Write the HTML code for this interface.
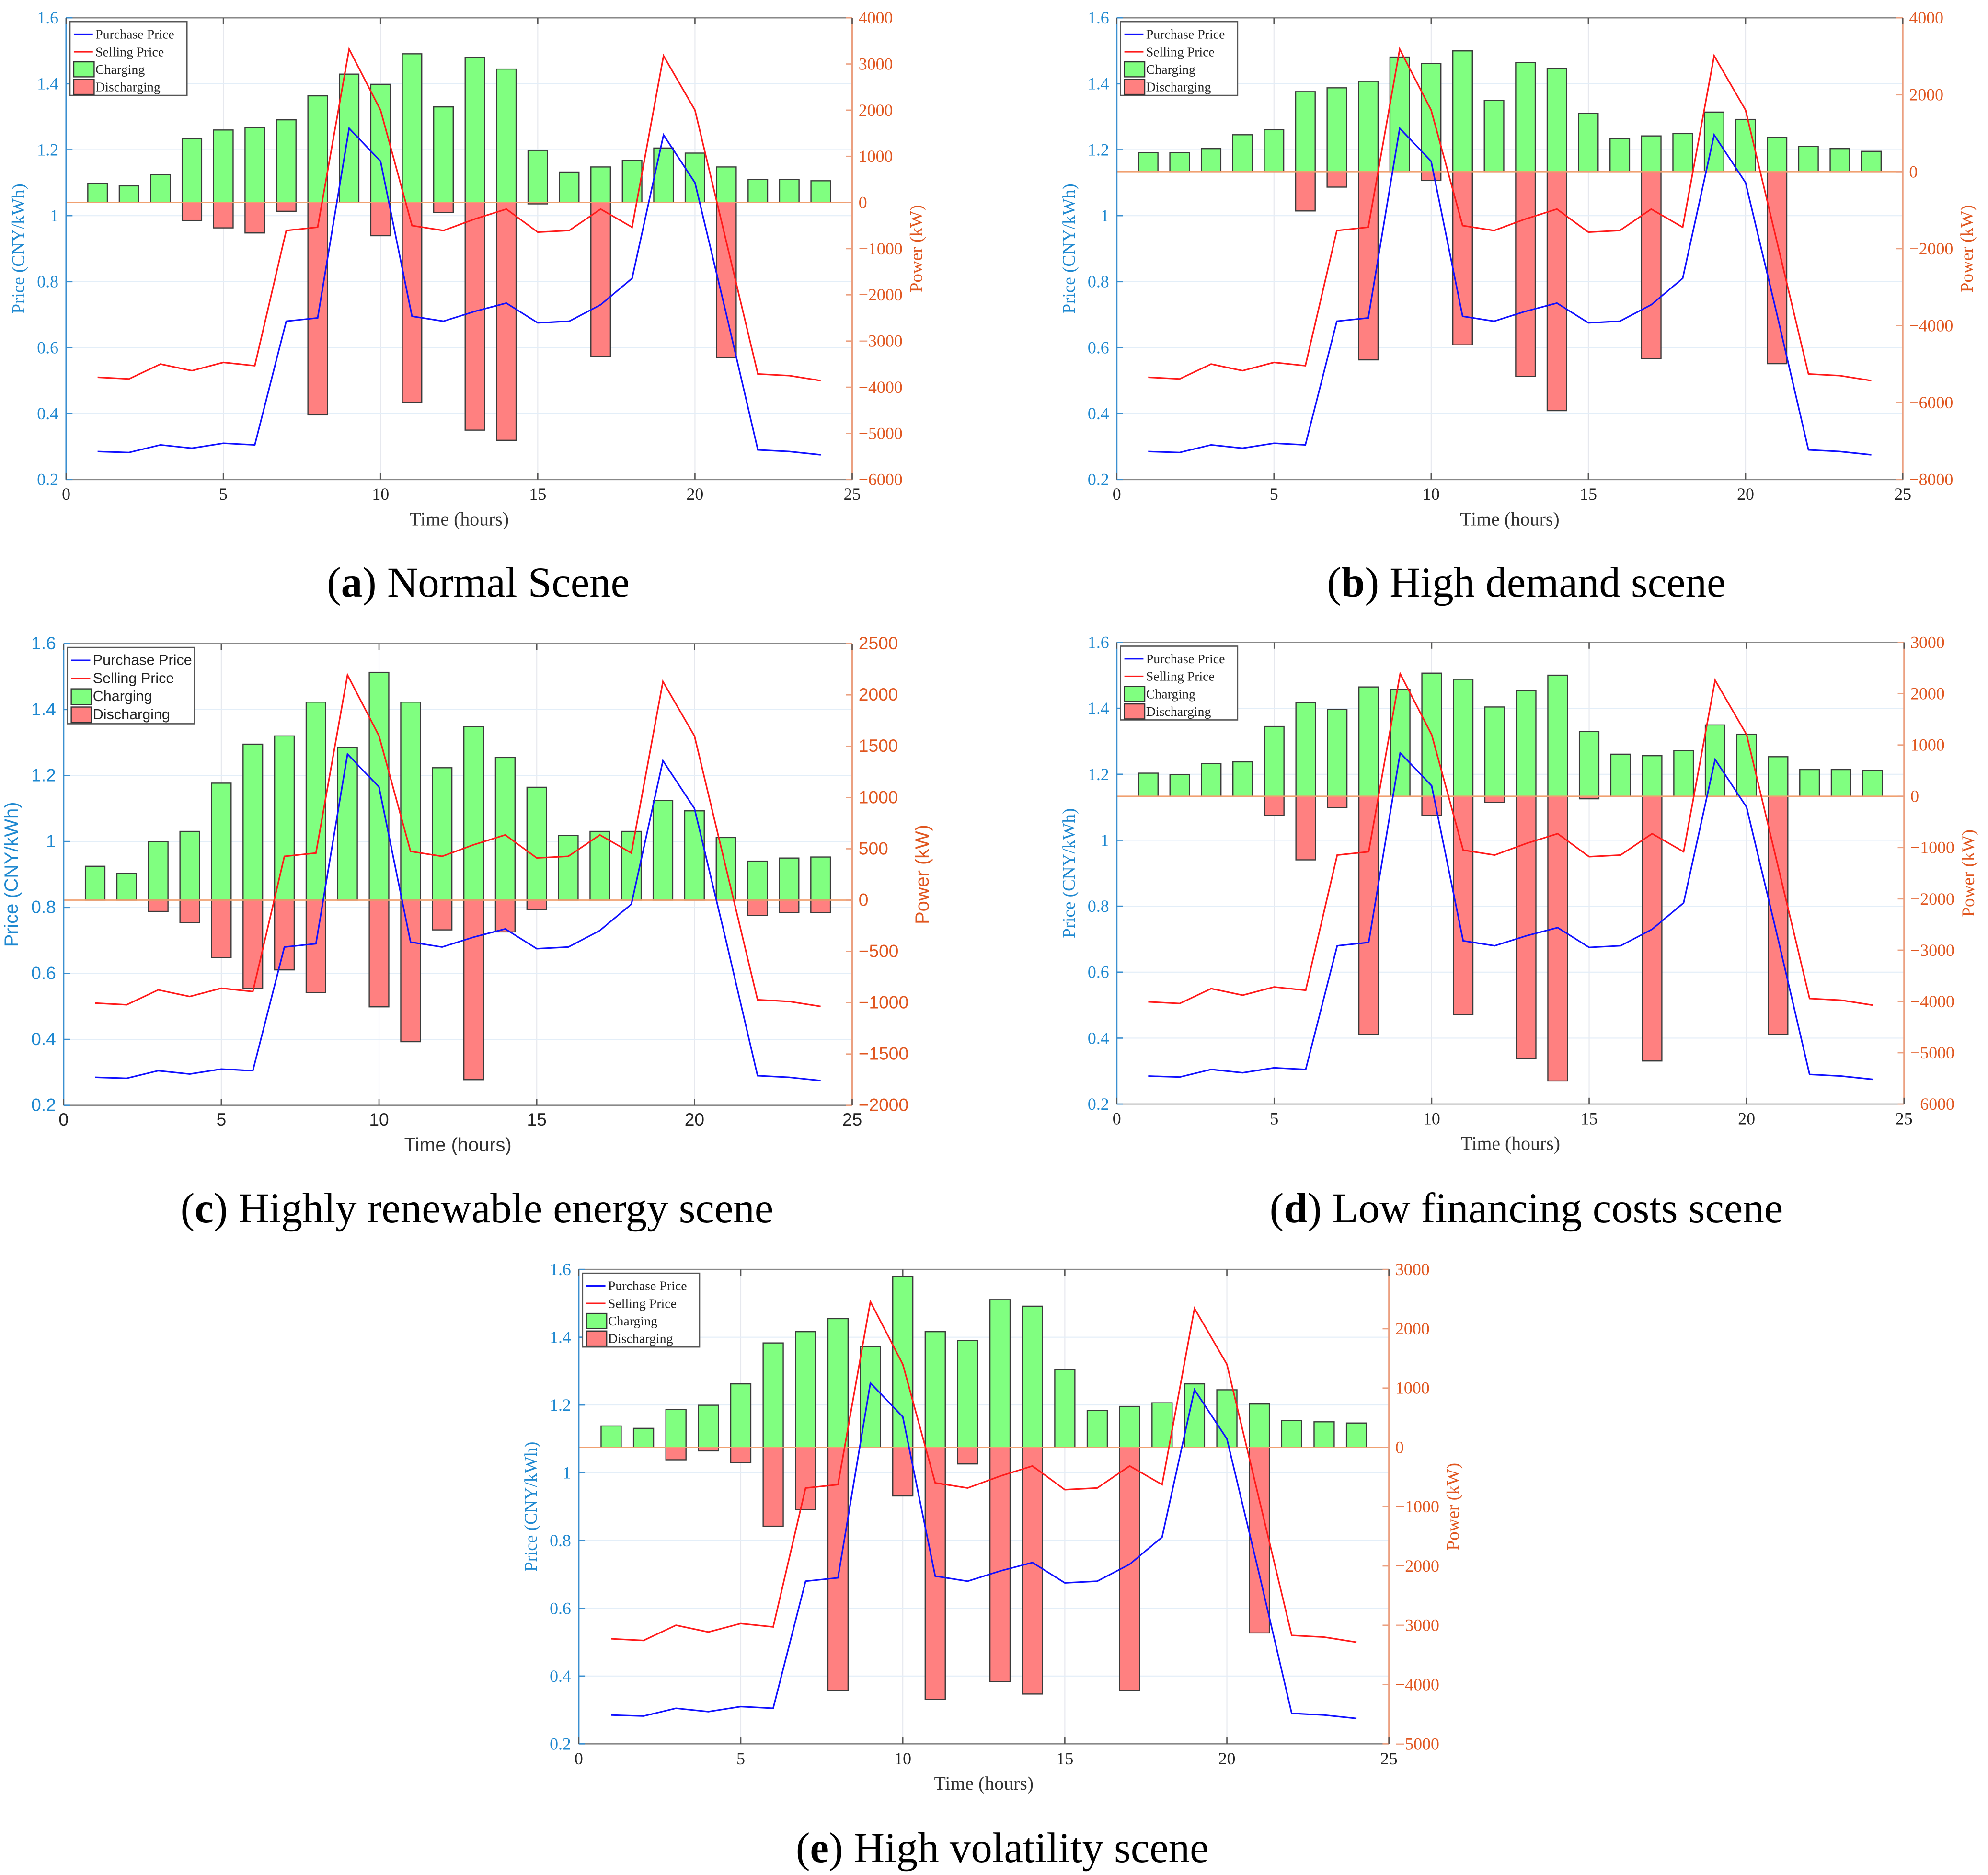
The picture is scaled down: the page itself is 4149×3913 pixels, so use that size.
<!DOCTYPE html>
<html><head><meta charset="utf-8">
<style>
html,body{margin:0;padding:0;background:#fff;}
svg{display:block;}
</style></head>
<body>
<svg id="fig" xmlns="http://www.w3.org/2000/svg" width="4149" height="3913" viewBox="0 0 1563 1474.1" preserveAspectRatio="none">
<rect x="0" y="0" width="1563" height="1474.1" fill="#fff"/>
</svg>
<script>
const hours = [1,2,3,4,5,6,7,8,9,10,11,12,13,14,15,16,17,18,19,20,21,22,23,24];
const purchasePrice = [0.285,0.282,0.305,0.295,0.31,0.305,0.68,0.69,1.265,1.165,0.695,0.68,0.71,0.735,0.675,0.68,0.73,0.81,1.245,1.1,0.7,0.29,0.285,0.275];
const sellingPrice = [0.51,0.505,0.55,0.53,0.555,0.545,0.955,0.965,1.505,1.32,0.97,0.955,0.99,1.02,0.95,0.955,1.02,0.965,1.485,1.32,0.92,0.52,0.515,0.5];

const chargeA = [410,360,600,1380,1570,1620,1790,2310,2780,2560,3220,2070,3140,2890,1130,660,770,910,1180,1070,770,500,500,470];
const dischargeA = [0,0,0,-390,-550,-660,-190,-4600,0,-720,-4330,-220,-4930,-5150,-30,0,-3330,0,0,0,-3360,0,0,0];
const chargeB = [500,500,600,960,1090,2080,2180,2350,2980,2810,3140,1850,2840,2680,1520,860,930,990,1550,1360,890,660,600,530];
const dischargeB = [0,0,0,0,0,-1020,-400,-4890,0,-230,-4500,0,-5320,-6210,0,0,-4860,0,0,0,-4990,0,0,0];
const chargeC = [330,260,570,670,1140,1520,1600,1930,1490,2220,1930,1290,1690,1390,1100,630,670,670,970,870,610,380,410,420];
const dischargeC = [0,0,-110,-220,-560,-860,-680,-900,0,-1040,-1380,-290,-1750,-310,-90,0,0,0,0,0,0,-150,-120,-120];
const chargeD = [450,420,640,670,1360,1830,1690,2130,2080,2400,2280,1740,2060,2360,1260,820,790,890,1390,1210,770,520,520,500];
const dischargeD = [0,0,0,0,-370,-1240,-220,-4640,0,-370,-4260,-120,-5110,-5550,-50,0,-5160,0,0,0,-4640,0,0,0];
const chargeE = [360,320,640,710,1070,1760,1950,2170,1700,2880,1950,1800,2490,2380,1310,620,690,750,1070,970,730,450,430,410];
const dischargeE = [0,0,-210,-60,-260,-1330,-1050,-4100,0,-820,-4250,-280,-3950,-4160,0,0,-4100,0,0,0,-3130,0,0,0];

const xTicks = [0,5,10,15,20,25];
const priceTicks = [0.2,0.4,0.6,0.8,1,1.2,1.4,1.6];
const powerTicksA = [-6000,-5000,-4000,-3000,-2000,-1000,0,1000,2000,3000,4000];
const powerTicksB = [-8000,-6000,-4000,-2000,0,2000,4000];
const powerTicksC = [-2000,-1500,-1000,-500,0,500,1000,1500,2000,2500];
const powerTicksD = [-6000,-5000,-4000,-3000,-2000,-1000,0,1000,2000,3000];
const powerTicksE = [-5000,-4000,-3000,-2000,-1000,0,1000,2000,3000];

const NS="http://www.w3.org/2000/svg";
const svg=document.getElementById('fig');
function mk(tag,attrs,parent){const e=document.createElementNS(NS,tag);for(const k in attrs)e.setAttribute(k,attrs[k]);(parent||svg).appendChild(e);return e;}
const fmt=v=>{let s=String(v);return s.replace('-','\u2212');};

const panels=[
 {id:'a',x0:52,x1:670,top:14,bot:377,ticks:powerTicksA,ch:chargeA,dis:dischargeA,font:'"Liberation Serif", serif',cap:' Normal Scene',cx:376,cy:469,leg:[92,58]},
 {id:'b',x0:878,x1:1496,top:14,bot:377,ticks:powerTicksB,ch:chargeB,dis:dischargeB,font:'"Liberation Serif", serif',cap:' High demand scene',cx:1200,cy:469,leg:[92,58]},
 {id:'c',x0:50,x1:670,top:506,bot:869,ticks:powerTicksC,ch:chargeC,dis:dischargeC,font:'"Liberation Sans", sans-serif',cap:' Highly renewable energy scene',cx:375,cy:961,leg:[100,60]},
 {id:'d',x0:878,x1:1497,top:505,bot:868,ticks:powerTicksD,ch:chargeD,dis:dischargeD,font:'"Liberation Serif", serif',cap:' Low financing costs scene',cx:1200,cy:961,leg:[92,58]},
 {id:'e',x0:455,x1:1092,top:998,bot:1371,ticks:powerTicksE,ch:chargeE,dis:dischargeE,font:'"Liberation Serif", serif',cap:' High volatility scene',cx:788,cy:1464,leg:[92,58]}
];

panels.forEach(p=>{
  const g=mk('g',{});
  
  
  const pmin=p.ticks[0],pmax=p.ticks[p.ticks.length-1];
  const X=h=>p.x0+(h/25)*(p.x1-p.x0);
  const YL=v=>p.bot-(v-0.2)/1.4*(p.bot-p.top);
  const YR=v=>p.bot-(v-pmin)/(pmax-pmin)*(p.bot-p.top);
  const sans=p.id==='c';
  const fs=sans?14:13.5;
  xTicks.forEach(t=>{const l=mk('line',{x1:X(t),x2:X(t),y1:p.top,y2:p.bot,stroke:'#e6e8ee','stroke-width':0.8},g);});
  priceTicks.forEach(t=>{const l=mk('line',{x1:p.x0,x2:p.x1,y1:YL(t),y2:YL(t),stroke:'#e3eef8','stroke-width':0.8},g);});
  mk('line',{x1:p.x0,x2:p.x1,y1:p.top,y2:p.top,stroke:'#888','stroke-width':1},g);
  const xa=mk('line',{x1:p.x0,x2:p.x1,y1:p.bot,y2:p.bot,stroke:'#888','stroke-width':1},g);
  
  const bw=0.62*(p.x1-p.x0)/25;
  hours.forEach((h,i)=>{
    const y0=YR(0);
    if(p.ch[i]>0){const r=mk('rect',{x:X(h)-bw/2,y:YR(p.ch[i]),width:bw,height:y0-YR(p.ch[i]),fill:'#80ff80',stroke:'#3a3a3a','stroke-width':0.9},g);
      }
    if(p.dis[i]<0){const r=mk('rect',{x:X(h)-bw/2,y:y0,width:bw,height:YR(p.dis[i])-y0,fill:'#ff8080',stroke:'#3a3a3a','stroke-width':0.9},g);
      }
  });
  const zl=mk('line',{x1:p.x0,x2:p.x1,y1:YR(0),y2:YR(0),stroke:'#f0a070','stroke-width':1},g);
  
  const pl=mk('polyline',{points:hours.map((h,i)=>X(h)+','+YL(purchasePrice[i])).join(' '),fill:'none',stroke:'#1010ff','stroke-width':1.2},g);
  
  const sl=mk('polyline',{points:hours.map((h,i)=>X(h)+','+YL(sellingPrice[i])).join(' '),fill:'none',stroke:'#ff1a1a','stroke-width':1.2},g);
  
  const la=mk('line',{x1:p.x0,x2:p.x0,y1:p.top,y2:p.bot,stroke:'#3a8fd0','stroke-width':1.2},g);
  
  priceTicks.forEach(t=>{
    mk('line',{x1:p.x0,x2:p.x0+5,y1:YL(t),y2:YL(t),stroke:'#3a8fd0','stroke-width':1},g);
    const tx=mk('text',{x:p.x0-6,y:YL(t)+4.5,'text-anchor':'end','font-family':p.font,'font-size':fs,fill:'#1e88d0'},g);
    tx.textContent=String(t);
  });
  const ra=mk('line',{x1:p.x1,x2:p.x1,y1:p.top,y2:p.bot,stroke:'#eba080','stroke-width':1.2},g);
  
  p.ticks.forEach(t=>{
    mk('line',{x1:p.x1-5,x2:p.x1,y1:YR(t),y2:YR(t),stroke:'#eba080','stroke-width':1},g);
    const tx=mk('text',{x:p.x1+5,y:YR(t)+4.5,'text-anchor':'start','font-family':p.font,'font-size':fs,fill:'#e0561f'},g);
    tx.textContent=fmt(t);
  });
  xTicks.forEach(t=>{
    mk('line',{x1:X(t),x2:X(t),y1:p.bot,y2:p.bot-5,stroke:'#555','stroke-width':1},g);
    mk('line',{x1:X(t),x2:X(t),y1:p.top,y2:p.top+5,stroke:'#555','stroke-width':1},g);
    const tx=mk('text',{x:X(t),y:p.bot+16,'text-anchor':'middle','font-family':p.font,'font-size':fs,fill:'#222'},g);
    tx.textContent=String(t);
  });
  const xl=mk('text',{x:(p.x0+p.x1)/2,y:p.bot+36,'text-anchor':'middle','font-family':p.font,'font-size':15,fill:'#333'},g);
  xl.textContent='Time (hours)';
  const ylx=p.x0-(sans?36:33), yly=(p.top+p.bot)/2;
  const yl=mk('text',{x:ylx,y:yly,'text-anchor':'middle','font-family':p.font,'font-size':sans?15:14,fill:'#1e88d0',transform:'rotate(-90 '+ylx+' '+yly+')'},g);
  yl.textContent='Price (CNY/kWh)';
  const yrx=p.x1+(sans?60:55);
  const yr=mk('text',{x:yrx,y:yly,'text-anchor':'middle','font-family':p.font,'font-size':sans?15:14,fill:'#e0561f',transform:'rotate(-90 '+yrx+' '+yly+')'},g);
  yr.textContent='Power (kW)';
  const lg=mk('g',{},g);
  
  const lx=p.x0+3,ly=p.top+3,lw=p.leg[0],lh=p.leg[1],rh=lh/4.2;
  mk('rect',{x:lx,y:ly,width:lw,height:lh,fill:'#fff',stroke:'#555','stroke-width':1},lg);
  const names=['Purchase Price','Selling Price','Charging','Discharging'];
  names.forEach((n,i)=>{
    const cy=ly+3+rh*(i+0.5);
    if(i<2){mk('line',{x1:lx+3,x2:lx+18,y1:cy,y2:cy,stroke:i===0?'#1010ff':'#ff1a1a','stroke-width':1.2},lg);}
    else{mk('rect',{x:lx+3,y:cy-rh/2+1,width:16,height:rh-2,fill:i===2?'#80ff80':'#ff8080',stroke:'#333','stroke-width':0.9},lg);}
    const t=mk('text',{x:lx+20,y:cy+3.5,'font-family':p.font,'font-size':sans?11.5:10.5,fill:'#222'},lg);
    t.textContent=n;
  });
  const cap=mk('text',{x:p.cx,y:p.cy,'text-anchor':'middle','font-family':'"Liberation Serif", serif','font-size':33.5,fill:'#000'},svg);
  
  const t1=mk('tspan',{},cap);t1.textContent='(';
  const t2=mk('tspan',{'font-weight':'bold'},cap);t2.textContent=p.id;
  const t3=mk('tspan',{},cap);t3.textContent=')'+p.cap;
});
</script>
</body></html>
